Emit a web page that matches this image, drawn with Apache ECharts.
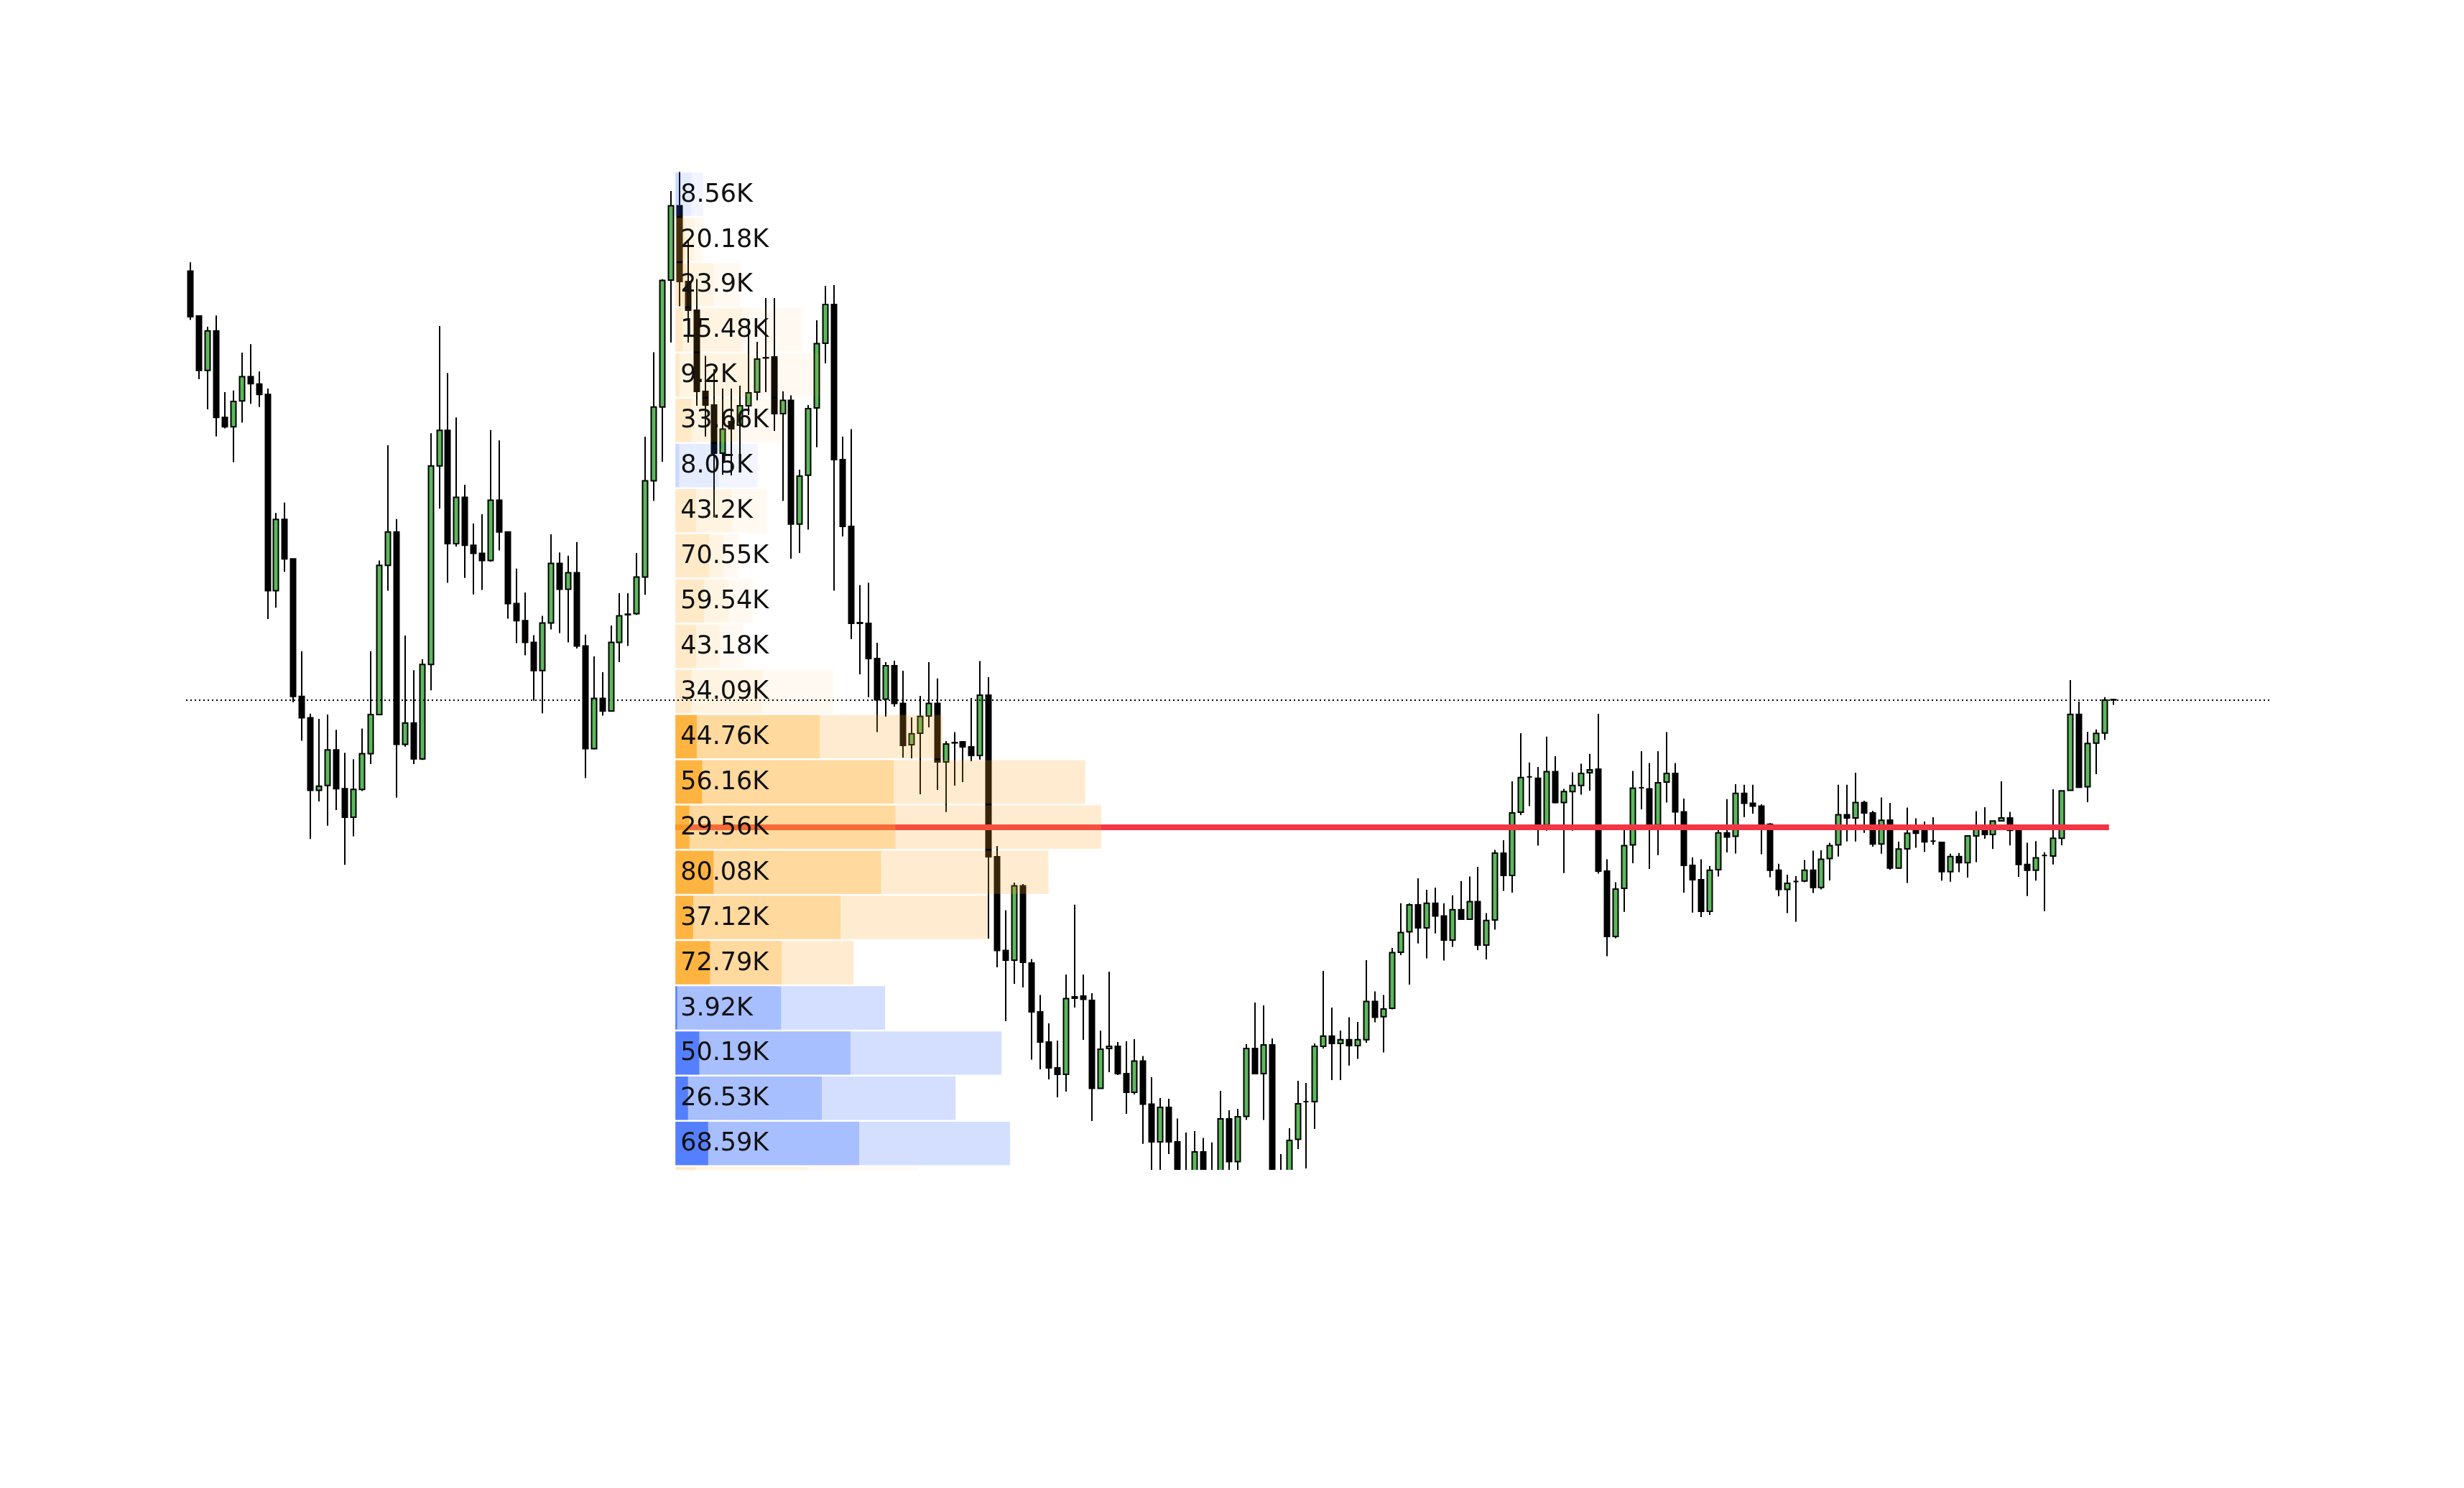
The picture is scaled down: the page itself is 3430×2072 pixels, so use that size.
<!DOCTYPE html>
<html><head><meta charset="utf-8">
<script src="https://cdn.jsdelivr.net/npm/echarts/dist/echarts.min.js"></script>
<style>html,body{margin:0;padding:0;background:#fff}#c{width:3430px;height:2072px}</style>
</head><body><div id="c"></div><script>
// ---- candle data (index 0..224) ----
const opens = [162.24,156.01,148.43,153.93,141.87,140.58,144.17,147.54,146.53,145.07,117.74,127.67,122.17,103.03,100.06,89.96,90.63,95.57,90.18,86.2,90.07,95.06,100.51,121.27,125.93,96.36,99.33,94.33,107.47,135.13,140.07,124.3,130.76,124.08,122.96,121.95,130.36,125.93,115.94,113.58,110.55,106.63,113.25,121.55,117.96,120.26,110.05,95.74,102.75,101.01,110.55,114.47,114.54,119.65,133.06,143.33,161.01,171.34,160.8,156.8,145.5,143.6,136.9,141.3,140.8,143.5,145.4,150.2,150.3,142.4,144.25,127.03,133.83,143.2,152.2,157.6,136,126.7,113.3,113.2,108.3,102.64,107.3,102.04,96.3,97.9,100.3,102.04,93.9,96.6,96.7,96,94.8,103.2,80.7,67.65,66.3,76.65,65.9,59.1,54.9,51.3,50.4,61,61.3,60.7,48.45,54,54.3,50.5,47.9,52.25,46.24,41,45.8,41,36,36,39.6,35.5,35.5,44.2,38.24,44.54,54,50.5,54.5,35.5,36,41.35,46.6,46.6,54.3,55.73,54.7,55.23,54.4,55.23,60.54,58.43,59.6,67.4,70.24,74,70.8,74.22,72.45,69.1,73.32,72,74.46,68.4,71.9,81.2,78.1,86.9,91.82,91.63,85.13,92.54,88.24,89.77,90.63,92.4,92.9,78.7,69.6,76.3,82.35,90.3,90.15,85.13,91.1,92.3,86.95,79.5,77.5,73.1,78.9,84.03,83.55,89.53,88.14,87.76,85.22,78.82,76.14,77.24,77.33,78.82,76.42,80.44,82.35,86.56,86.1,88.24,86.81,82.48,85.81,79.12,81.81,84.31,84.31,82.88,82.71,78.62,80.72,79.88,83.61,84.81,83.81,85.71,86.11,84.38,79.62,78.82,80.88,80.81,83.28,89.94,100.53,90.44,96.53,97.93,102.6];
const closes = [155.9,148.43,153.93,141.87,140.58,144.11,147.54,146.58,145.07,117.74,127.67,122.17,103.03,100.06,89.96,90.52,95.57,90.18,86.2,90.07,95.06,100.51,121.27,125.93,96.36,99.33,94.33,107.47,135.13,140.07,124.3,130.76,124.08,122.96,121.95,130.36,125.93,115.94,113.58,110.55,106.63,113.25,121.55,117.96,120.26,110.05,95.74,102.75,101.01,110.55,114.26,114.4,119.65,133.06,143.33,160.95,171.34,160.8,156.8,145.5,143.6,136.9,140.25,140.3,143.5,145.3,150,150.15,142.4,144.25,127.03,133.7,143.1,152.15,157.6,136,126.7,113.2,113.2,108.3,102.55,107.3,102.04,96.2,97.82,100.25,102.04,93.9,96.4,96.55,96,94.8,103.2,80.7,67.65,66.3,76.65,66,59.1,54.9,51.3,50.4,60.94,61.2,60.85,48.45,53.9,54.3,50.5,47.9,52.25,46.24,41,45.8,41,35,34.5,39.6,36,35,44.2,38.24,44.5,54,50.5,54.5,35,34.5,41.2,46.3,46.6,54.3,55.73,54.7,55.23,54.4,55.23,60.54,58.34,59.5,67.34,70.16,74,70.8,74.22,72.44,69.1,73.32,72,74.46,68.4,71.83,81.2,78.1,86.8,91.73,91.82,85.13,92.54,88.24,89.77,90.63,92.3,92.8,78.7,69.6,76.2,82.26,90.25,90.3,85.13,91.01,92.3,86.95,79.5,77.5,73.1,78.82,84.03,83.45,89.53,88.14,87.76,85.22,78.82,76.14,77,77.24,78.82,76.42,80.35,82.26,86.56,86.1,88.24,86.8,82.48,85.78,79.12,81.78,83.98,83.98,82.78,82.88,78.62,80.72,79.88,83.61,84.81,83.81,85.68,86.11,84.38,79.62,78.82,80.55,80.88,83.28,89.87,100.53,90.37,96.47,97.87,102.53,102.53];
const lows = [155.45,147.2,143,139.23,140.35,135.64,141.14,143.78,143.33,113.81,115.38,120.38,102.2,96.86,83.17,88.4,85.02,87.21,79.58,83.56,89.85,93.6,100.45,117.74,88.93,96.02,93.6,94.17,103.88,129.18,118.86,123.91,119.53,117.23,117.85,121.78,123.35,113.86,110.44,108.76,102.42,100.68,112.35,111.84,110.55,109.71,91.64,95.68,100.34,100.9,107.8,110.05,114.37,117.18,130.25,135.7,152.3,157.34,152.3,143.5,139.2,127.95,133.9,133.8,136.44,142.2,144.25,145.4,140,130.24,122.2,123,126.25,137.73,149.4,117.75,125.3,111,106.1,102.9,98.05,100.2,101.6,94.5,94.4,89.4,98.73,90,86.93,90.6,91.1,94,94.23,69.3,65.3,57.8,63,62.5,52.45,51.1,49.7,47.2,48,59.7,55.2,43.9,48.4,50.7,50.3,44.9,47.6,40.73,36,36,39.3,34,33.5,35,35,34,34.5,36,36,44.04,50.4,44.04,34,33.5,35,40,37.3,42.8,54,49.6,49.6,51.63,52.54,54.8,57.64,53.45,59.46,67,62.9,68.62,66.55,70.03,66.24,68.15,72,72,67.7,66.4,70.54,75.95,75.7,86.5,87.76,82.26,84.32,88.14,78.43,84.32,89.34,89.91,78.34,66.86,69.34,73.03,79.8,87.3,79,80.92,88.24,85.22,75.7,72.93,72.3,72.6,77.95,81.3,81.16,86.23,86.7,81.06,77.86,75.2,72.84,71.64,77.14,75.66,76.14,77.4,80.73,82.83,82.83,84.03,82.11,81.12,78.88,79.05,77.05,81.95,81.38,82.38,77.38,77.22,78.55,77.79,79.95,83.21,81.78,85.71,82.28,77.89,75.22,77.38,73.12,79.62,82.31,89.94,90.37,88.31,92.2,96.97,101.86];
const highs = [163.47,156.05,154.5,156.07,145.4,145.63,150.9,152.08,148.27,145.91,128.57,130.03,122.2,109.32,100.62,99.9,100.5,98.38,95.18,94.28,98.54,109.32,121.95,138,127.73,111.5,106.68,108.2,139.68,154.61,148.04,141.87,132.5,127.11,128.4,140.13,138.67,125.95,120.82,117.51,111.56,114.26,125.6,123.07,122.62,124.53,111.62,108.59,106.4,112.91,117.4,117.4,123.01,139.17,150.96,161.12,173.4,176.07,166.5,161.15,150.45,148.6,145.9,145.9,146.3,155.6,152.4,158.5,158.5,145.5,144.94,134.6,143.6,155.4,160.2,160.3,139.2,140.25,118.53,118.85,110.5,107.8,108,106.6,100.1,103.1,107.8,105.53,96.8,98.05,96.8,102.8,107.95,105.7,82.2,73.25,77.1,76.9,66.45,61.45,57.5,55.1,64.3,74.03,64.3,61.7,56.5,64.7,54.9,55,55.3,52.95,50,47.1,47,44.25,42.3,42.5,41.55,40.93,48.1,45.4,45.6,54.6,60.4,60,55.4,39.3,42.9,49.5,49.2,54.7,64.8,59.7,56.5,58.34,57.7,66.3,61.95,61.45,68,74.22,74.22,77.7,76.1,76.4,74.22,75.32,77.33,77.95,79.3,72.84,81.64,83,91.2,97.9,93.83,93.2,97.42,94.7,90.15,92.45,93.64,95.03,100.6,80.35,77.14,84.5,92.64,95.4,93.74,95.4,98.04,93.74,88.8,80.6,80.35,79.4,84.4,88.72,90.8,90.72,90.72,88,85.37,79.72,78.2,78,80.25,81.54,81.6,82.64,90.72,90.72,92.4,88.5,87.1,88.94,88.21,82.81,87.54,86.04,85.61,86.21,82.78,81.12,81.22,83.61,87.04,87.61,85.68,91.2,86.94,84.38,82.65,82.88,81.32,90.1,89.87,105.29,102.3,98.1,98.43,102.93,102.63];

// ---- volume profile rows (top row first), volumes in K ----
const buyVol  = [24.97,39.74,79.45,140.24,157.6,129.33,81.98,117.6,101.13,110.77,92.49,181.55,301.18,455.98,459.53,429.69,344.81,222.4,217.04,315.4,279.24,315.2,275.25];
const sellVol = [33.53,19.56,55.55,124.76,148.4,95.67,90.03,74.4,30.58,51.23,49.31,147.46,256.42,399.82,429.97,349.61,307.69,149.61,220.96,365.59,305.77,383.79,233.25];
const profileStep = 6.294;       // price height of one profile row
const profileStartIndex = 57;    // first candle covered by the profile
const pocEndIndex = 223;         // candle where the POC line ends
const valueAreaShare = 0.7;
const axisMin = 37.1;

// ---- layout / scale settings ----
const bandCount = 243;
const bandPx = 11.95;
const volPerBand = 17.925;
const bodyWidth = 7;

const categories = [];
for (let i = 0; i < bandCount; i++) categories.push(String(i + 1));
const candleData = opens.map((o, i) => [i, o, closes[i], lows[i], highs[i]]);
const profileTop = Math.max.apply(null, highs);
const totals = buyVol.map((b, k) => b + sellVol[k]);
let poc = 0;
totals.forEach((t, k) => { if (t > totals[poc]) poc = k; });
const grand = totals.reduce((a, b) => a + b, 0);
let lo = poc, hi = poc, acc = totals[poc];
while (acc < valueAreaShare * grand) {
  const up = lo - 1 >= 0 ? totals[lo - 1] : -1;
  const dn = hi + 1 < totals.length ? totals[hi + 1] : -1;
  if (up < 0 && dn < 0) break;
  if (up >= dn) { lo--; acc += totals[lo]; } else { hi++; acc += totals[hi]; }
}
const pocPrice = profileTop - (poc + 0.5) * profileStep;
const lastClose = closes[closes.length - 1];

const orange = [255, 170, 40], blue = [60, 110, 255];
const alphas = [0.88, 0.45, 0.22];
function rgba(c, a) { return 'rgba(' + c[0] + ',' + c[1] + ',' + c[2] + ',' + a.toFixed(3) + ')'; }
function fmtK(v) { return parseFloat(v.toFixed(2)) + 'K'; }
function isUp(i) {
  const o = opens[i], c = closes[i];
  if (c > o) return true;
  if (c < o) return false;
  return i > 0 ? closes[i - 1] <= c : true;
}

const chart = echarts.init(document.getElementById('c'), null, { renderer: 'canvas' });
chart.setOption({
  animation: false,
  backgroundColor: '#fff',
  grid: { left: 259, top: 239.3, width: bandCount * bandPx, height: 1389.7 },
  xAxis: [
    { type: 'category', data: categories, boundaryGap: true, show: false },
    { type: 'value', min: -profileStartIndex * volPerBand, max: (bandCount - profileStartIndex) * volPerBand, show: false }
  ],
  yAxis: [{ type: 'value', min: axisMin, max: profileTop, show: false, scale: true }],
  series: [
    {
      type: 'custom', name: 'price', xAxisIndex: 0, yAxisIndex: 0, z: 2, silent: true, clip: true,
      data: candleData,
      encode: { x: 0, y: [1, 2, 3, 4] },
      renderItem: function (params, api) {
        const i = api.value(0);
        const o = api.value(1), c = api.value(2), l = api.value(3), h = api.value(4);
        const po = api.coord([i, o]), pc = api.coord([i, c]);
        const pl = api.coord([i, l]), ph = api.coord([i, h]);
        const x = Math.round(po[0]);
        const top = Math.min(po[1], pc[1]), bot = Math.max(po[1], pc[1]);
        const up = isUp(params.dataIndex);
        return {
          type: 'group',
          children: [
            { type: 'line', shape: { x1: x, y1: ph[1], x2: x, y2: pl[1] }, style: { stroke: '#000', lineWidth: 2 } },
            { type: 'rect', shape: { x: x - bodyWidth / 2, y: top, width: bodyWidth, height: Math.max(bot - top, 0) },
              style: { fill: up ? '#5cb85c' : '#000', stroke: '#000', lineWidth: 2 } }
          ]
        };
      },
      markLine: {
        silent: true, symbol: ['none', 'none'], animation: false,
        label: { show: false },
        lineStyle: { color: '#000', width: 2, type: [2, 4], opacity: 1 },
        emphasis: { disabled: true },
        data: [{ yAxis: lastClose }]
      }
    },
    {
      type: 'custom', xAxisIndex: 0, yAxisIndex: 0, z: 3, silent: true, clip: true,
      data: [[profileStartIndex, pocPrice]],
      renderItem: function (params, api) {
        const a = api.coord([profileStartIndex, pocPrice]);
        const e = api.coord([pocEndIndex, pocPrice]);
        const band = api.size([1, 0])[0];
        return { type: 'line', shape: { x1: a[0] - band / 2, y1: a[1], x2: e[0] + band / 2, y2: e[1] },
                 style: { stroke: '#f23645', lineWidth: 8 } };
      }
    },
    {
      type: 'custom', xAxisIndex: 1, yAxisIndex: 0, z: 4, silent: true, clip: true,
      data: totals.map((t, k) => [t, profileTop - (k + 0.5) * profileStep]),
      renderItem: function (params, api) {
        const k = params.dataIndex;
        const b = buyVol[k], s = sellVol[k];
        const total = b + s, dom = Math.max(b, s), delta = Math.abs(b - s);
        const pHigh = profileTop - k * profileStep, pLow = pHigh - profileStep;
        const p0 = api.coord([0, pHigh]), p1 = api.coord([0, pLow]);
        const y0 = p0[1] + 1, y1 = p1[1] - 1.5, h = y1 - y0;
        const x0 = p0[0];
        const xd = api.coord([delta, pHigh])[0];
        const xm = api.coord([dom, pHigh])[0];
        const xt = api.coord([total, pHigh])[0];
        const pal = b >= s ? orange : blue;
        const f = (k >= lo && k <= hi) ? 1 : 0.3;
        return {
          type: 'group',
          children: [
            { type: 'rect', shape: { x: xm, y: y0, width: xt - xm, height: h }, style: { fill: rgba(pal, alphas[2] * f) } },
            { type: 'rect', shape: { x: xd, y: y0, width: xm - xd, height: h }, style: { fill: rgba(pal, alphas[1] * f) } },
            { type: 'rect', shape: { x: x0, y: y0, width: xd - x0, height: h }, style: { fill: rgba(pal, alphas[0] * f) } },
            { type: 'text', style: { text: fmtK(delta), x: x0 + 7, y: (y0 + y1) / 2 + 1, fill: '#111',
              font: '35px "DejaVu Sans"', align: 'left', verticalAlign: 'middle' } }
          ]
        };
      }
    }
  ]
});
</script></body></html>
